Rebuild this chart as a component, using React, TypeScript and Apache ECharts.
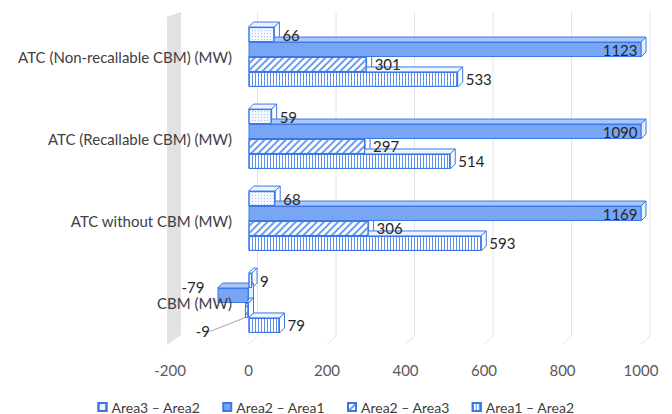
import React, { useEffect, useRef } from "react";
import * as echarts from "echarts";

const categories = [
  "CBM (MW)",
  "ATC without CBM (MW)",
  "ATC (Recallable CBM) (MW)",
  "ATC (Non-recallable CBM) (MW)",
];
const seriesNames = ["Area3 – Area2", "Area2 – Area1", "Area2 – Area3", "Area1 – Area2"];
const area3Area2 = [9, 68, 59, 66];
const area2Area1 = [-79, 1169, 1090, 1123];
const area2Area3 = [-9, 306, 297, 301];
const area1Area2 = [79, 593, 514, 533];
const xTicks = [-200, 0, 200, 400, 600, 800, 1000];

const FONT = "Lato, 'Noto Sans', sans-serif";
const BLUE = "#3b78e7";
const GAP = 0.27;
const DX = 5;
const DY = 5;

export default function App() {
  const ref = useRef<HTMLDivElement>(null);
  useEffect(() => {
    if (!ref.current) return;
    const chart = echarts.init(ref.current, undefined, { renderer: "svg" });
    const values = [area3Area2, area2Area1, area2Area3, area1Area2];
    const xMin = xTicks[0];
    const xMax = xTicks[xTicks.length - 1];

    const fills = ["#f3f7fe", "#79a6f4", "#ffffff", "#ffffff"];
    const topFills = ["#eef4fe", "#a9c6f8", "#eef4fe", "#eef4fe"];
    const sideFills = ["#ffffff", "#e8f0fd", "#ffffff", "#ffffff"];
    const decals: any[] = [
      { symbol: "rect", symbolSize: 1, dashArrayX: [1, 2], dashArrayY: [1, 2], color: "#a8c4f6" },
      "none",
      { symbol: "rect", symbolSize: 1, dashArrayX: [1, 0], dashArrayY: [2, 3], rotation: -Math.PI / 4, color: "#6c9cf1" },
      { symbol: "rect", symbolSize: 1, dashArrayX: [1, 2], dashArrayY: [1, 0], color: "#5d91f0" },
    ];

    const barSeries = values.map((vals, s) => ({
      name: seriesNames[s],
      type: "bar",
      z: 3,
      barGap: "0%",
      barCategoryGap: GAP * 100 + "%",
      itemStyle: {
        color: fills[s],
        borderColor: BLUE,
        borderWidth: 1,
        decal: decals[s] === "none" ? undefined : decals[s],
      },
      label: {
        show: true,
        position: "right",
        distance: 8,
        color: "#262626",
        fontFamily: FONT,
        fontSize: 15,
      },
      labelLayout:
        s === 2
          ? (p: any) => (p.dataIndex === 0 ? { dx: -27, dy: 21 } : {})
          : undefined,
      data: vals.map((v) => {
        if (v > xMax) {
          return { value: v, label: { position: "insideRight", distance: 4 } };
        }
        if (v < 0 && s === 1) {
          return { value: v, label: { position: "left", offset: [-5, -9] } };
        }
        if (v < 0 && s === 2) {
          return {
            value: v,
            label: { position: "left" },
            labelLine: { show: true, lineStyle: { color: "#a6a6a6", width: 1 } },
          };
        }
        return v;
      }),
    }));

    const depthData: number[][] = [];
    values.forEach((vals, s) => vals.forEach((v, c) => depthData.push([v, c, s])));

    const depthSeries = {
      type: "custom",
      name: "depth",
      z: 2,
      silent: true,
      encode: { x: 0, y: 1 },
      data: depthData,
      renderItem: (params: any, api: any) => {
        const v = api.value(0);
        const c = api.value(1);
        const s = api.value(2);
        const cs = params.coordSys;
        const band = api.size([0, 1])[1];
        const bw = (band * (1 - GAP)) / 4;
        const p0 = api.coord([0, c]);
        let x1 = api.coord([v, c])[0];
        x1 = Math.max(cs.x, Math.min(cs.x + cs.width, x1));
        const x0 = p0[0];
        const yTop = p0[1] - 2 * bw + s * bw;
        const left = Math.min(x0, x1);
        const right = Math.max(x0, x1);
        return {
          type: "group",
          children: [
            {
              type: "polygon",
              shape: { points: [[left, yTop], [left + DX, yTop - DY], [right + DX, yTop - DY], [right, yTop]] },
              style: { fill: topFills[s], stroke: BLUE, lineWidth: 1 },
            },
            {
              type: "polygon",
              shape: { points: [[right, yTop], [right + DX, yTop - DY], [right + DX, yTop + bw - DY], [right, yTop + bw]] },
              style: { fill: sideFills[s], stroke: BLUE, lineWidth: 1 },
            },
          ],
        };
      },
    };

    const decorSeries = {
      type: "custom",
      name: "decor",
      z: 1,
      silent: true,
      encode: { x: 0, y: 1 },
      data: xTicks.map((t) => [t, 0]),
      renderItem: (params: any, api: any) => {
        const t = api.value(0);
        const cs = params.coordSys;
        const x = api.coord([t, 0])[0];
        const top = cs.y;
        const bottom = cs.y + cs.height;
        const children: any[] = [];
        if (t === xMin) {
          children.push({
            type: "polygon",
            shape: { points: [[x - 3, top + 1], [x + 11, top - 4], [x + 11, bottom - 9], [x - 3, bottom + 1]] },
            style: { fill: "#e2e2e2" },
          });
        } else {
          children.push({
            type: "line",
            shape: { x1: x + 9, y1: top - 4, x2: x + 9, y2: bottom - 8 },
            style: { stroke: "#e4e4e4", lineWidth: 1 },
          });
          children.push({
            type: "line",
            shape: { x1: x + 9, y1: bottom - 8, x2: x, y2: bottom },
            style: { stroke: "#e4e4e4", lineWidth: 1 },
          });
        }
        return { type: "group", children };
      },
    };

    chart.setOption({
      animation: false,
      grid: { left: 170, right: 31, top: 16, bottom: 70, containLabel: false },
      legend: {
        data: seriesNames,
        bottom: 0,
        padding: [5, 5, 0, 5],
        left: "center",
        icon: "rect",
        itemWidth: 8,
        itemHeight: 8,
        itemGap: 22,
        textStyle: { fontFamily: FONT, fontSize: 14, color: "#404040" },
      },
      xAxis: {
        type: "value",
        min: xMin,
        max: xMax,
        interval: 200,
        axisLine: { show: false },
        axisTick: { show: false },
        splitLine: { show: false },
        axisLabel: {
          margin: 18,
          color: "#595959",
          fontFamily: FONT,
          fontSize: 15,
          formatter: (v: number) => String(v),
        },
      },
      yAxis: {
        type: "category",
        data: categories,
        z: 10,
        axisLine: { show: false },
        axisTick: { show: false },
        axisLabel: { margin: -62, color: "#404040", fontFamily: FONT, fontSize: 15 },
      },
      series: [decorSeries, depthSeries, ...barSeries],
    });
    return () => chart.dispose();
  }, []);
  return <div ref={ref} style={{ width: 672, height: 414, position: "absolute", left: 0, top: 0 }} />;
}
